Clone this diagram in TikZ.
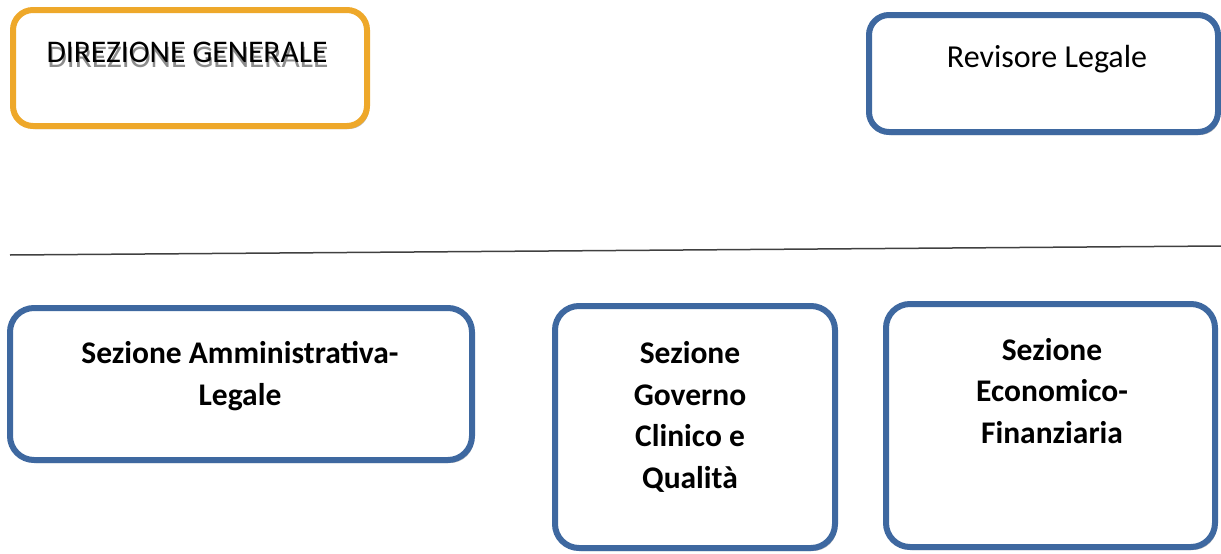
\documentclass[tikz,border=0pt]{standalone}
\usepackage{fontspec}
\setmainfont{Carlito}
\usetikzlibrary{shadows}

\definecolor{boxblue}{RGB}{62,104,160}
\definecolor{boxorange}{RGB}{238,168,42}

\tikzset{
  ufficio/.style={draw=boxblue, line width=6pt, rounded corners=24pt, fill=white,
    drop shadow={shadow xshift=2pt, shadow yshift=-3pt, opacity=0.45, fill=black!60}},
  testo/.style={anchor=base, align=center, inner sep=0pt, font=\fontsize{31.5}{41.5}\selectfont\bfseries}
}

\begin{document}
\begin{tikzpicture}[x=1pt, y=-1pt]
  \useasboundingbox (0,0) rectangle (1221,554);

  \node[ufficio, draw=boxorange, rounded corners=20pt, minimum width=354pt, minimum height=116pt] (dg) at (190,68) {};
  \node[anchor=base, inner sep=0pt, text=black!45, font=\fontsize{31.5}{36}\selectfont] (dgombra) at (188,67) {DIREZIONE GENERALE};
  \node[anchor=base, inner sep=0pt, font=\fontsize{31.5}{36}\selectfont] (dgtesto) at (187,62) {DIREZIONE GENERALE};

  \node[ufficio, rounded corners=20pt, minimum width=349pt, minimum height=117pt] (rl) at (1043.5,73.5) {};
  \node[anchor=base, inner sep=0pt, font=\fontsize{32}{36}\selectfont] (rltesto) at (1047,67) {Revisore Legale};

  \coordinate (sx) at (10,255);
  \coordinate (dx) at (1221,246);
  \draw[line width=1.5pt, black!75] (sx)--(dx);

  \node[ufficio, minimum width=462pt, minimum height=152pt] (amm) at (241,384) {};
  \node[testo] (ammtesto) at (240,405) {Sezione Amministrativa-\\Legale};

  \node[ufficio, minimum width=280pt, minimum height=242pt] (gov) at (695,427) {};
  \node[testo] (govtesto) at (690,488) {Sezione\\Governo\\Clinico e\\Qualità};

  \node[ufficio, minimum width=329pt, minimum height=243pt] (eco) at (1050.5,425.5) {};
  \node[testo] (ecotesto) at (1052,443) {Sezione\\Economico-\\Finanziaria};

\end{tikzpicture}
\end{document}
